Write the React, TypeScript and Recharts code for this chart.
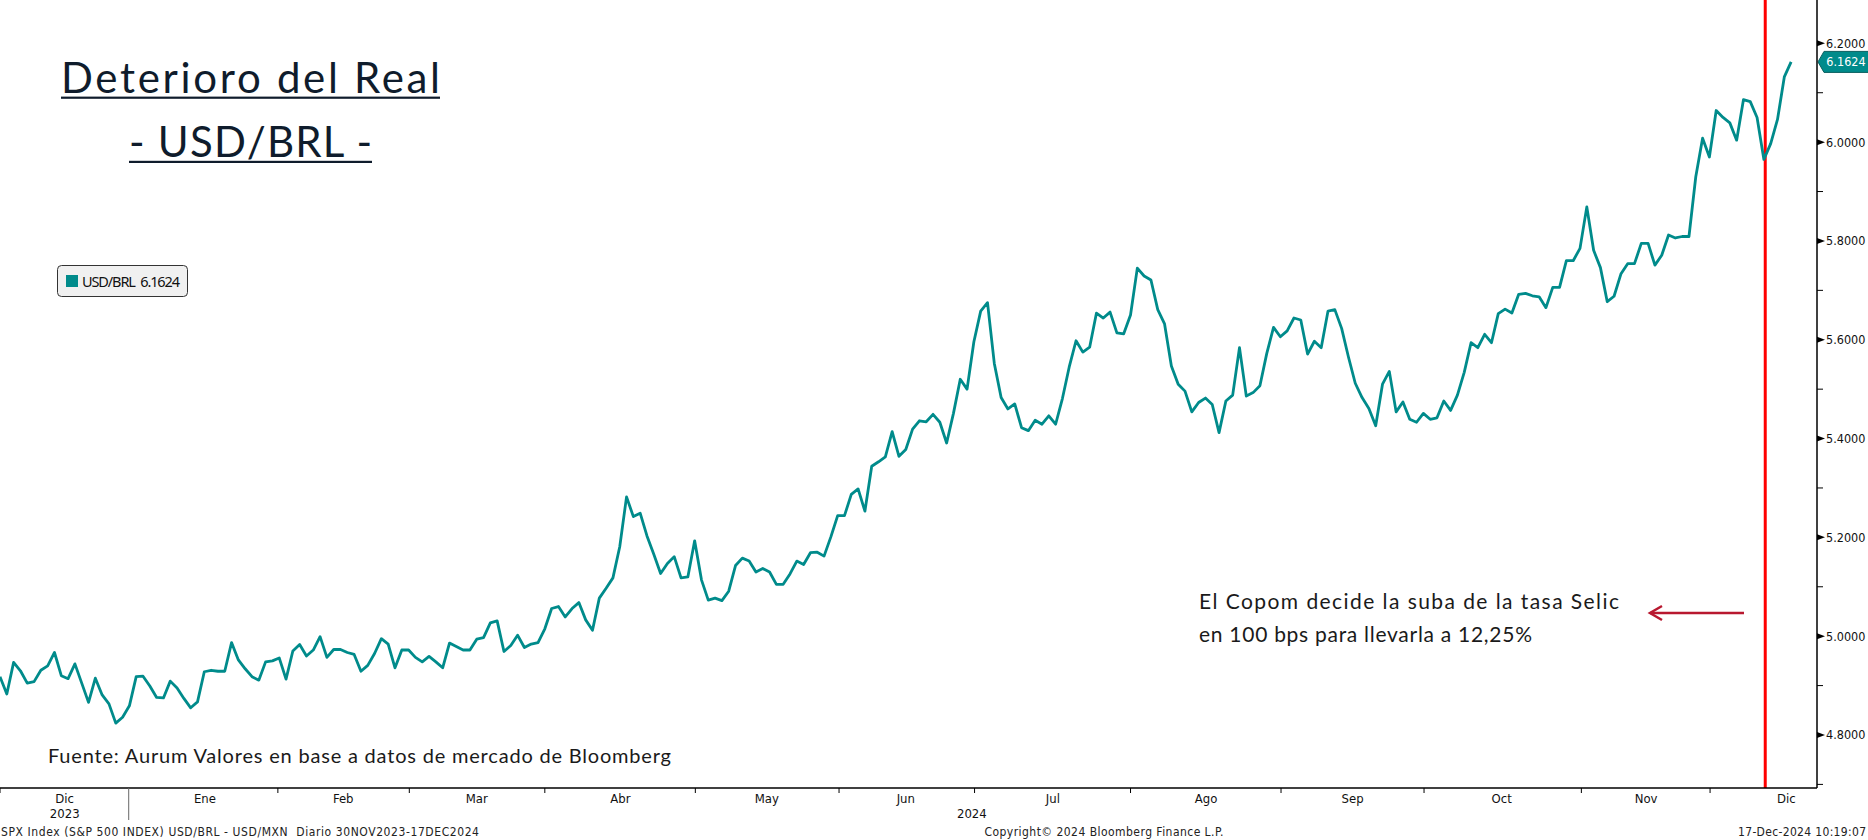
import React from 'react';
import { LineChart, Line, XAxis, YAxis, ReferenceLine } from 'recharts';

// USD/BRL daily close, 30-Nov-2023 .. 17-Dec-2024
const usdBrl = [
  4.918, 4.883, 4.947, 4.930, 4.905, 4.908, 4.931, 4.940, 4.967, 4.920,
  4.914, 4.944, 4.905, 4.866, 4.915, 4.881, 4.863, 4.824, 4.836, 4.859,
  4.918, 4.919, 4.899, 4.876, 4.875, 4.909, 4.895, 4.874, 4.855, 4.867,
  4.928, 4.931, 4.929, 4.929, 4.987, 4.952, 4.934, 4.918, 4.911, 4.948,
  4.950, 4.956, 4.913, 4.970, 4.983, 4.960, 4.972, 4.999, 4.957, 4.973,
  4.973, 4.967, 4.963, 4.929, 4.941, 4.965, 4.995, 4.984, 4.936, 4.972,
  4.972, 4.957, 4.948, 4.959, 4.948, 4.936, 4.986, 4.979, 4.972, 4.972,
  4.994, 4.997, 5.027, 5.031, 4.969, 4.981, 5.002, 4.977, 4.984, 4.987,
  5.015, 5.056, 5.060, 5.039, 5.056, 5.068, 5.033, 5.012, 5.077, 5.097,
  5.118, 5.181, 5.282, 5.242, 5.249, 5.203, 5.166, 5.127, 5.147, 5.161,
  5.118, 5.120, 5.193, 5.114, 5.073, 5.077, 5.072, 5.091, 5.143, 5.158,
  5.152, 5.130, 5.137, 5.130, 5.105, 5.105, 5.126, 5.152, 5.145, 5.169,
  5.170, 5.162, 5.201, 5.244, 5.244, 5.287, 5.298, 5.253, 5.344, 5.353,
  5.363, 5.414, 5.364, 5.378, 5.419, 5.436, 5.434, 5.449, 5.433, 5.391,
  5.451, 5.520, 5.500, 5.596, 5.658, 5.675, 5.552, 5.483, 5.460, 5.470,
  5.422, 5.416, 5.437, 5.429, 5.446, 5.429, 5.481, 5.545, 5.598, 5.575,
  5.585, 5.654, 5.644, 5.656, 5.614, 5.612, 5.650, 5.745, 5.729, 5.721,
  5.661, 5.632, 5.547, 5.510, 5.496, 5.454, 5.473, 5.482, 5.469, 5.412,
  5.476, 5.488, 5.584, 5.486, 5.493, 5.507, 5.572, 5.625, 5.606, 5.618,
  5.644, 5.640, 5.571, 5.597, 5.584, 5.658, 5.661, 5.623, 5.565, 5.512,
  5.483, 5.461, 5.426, 5.510, 5.536, 5.454, 5.474, 5.439, 5.433, 5.451,
  5.439, 5.442, 5.476, 5.457, 5.488, 5.534, 5.594, 5.584, 5.611, 5.594,
  5.653, 5.662, 5.654, 5.692, 5.694, 5.689, 5.687, 5.665, 5.706, 5.706,
  5.760, 5.760, 5.785, 5.869, 5.781, 5.746, 5.677, 5.688, 5.733, 5.754,
  5.754, 5.795, 5.795, 5.751, 5.771, 5.812, 5.806, 5.809, 5.809, 5.930,
  6.008, 5.970, 6.064, 6.050, 6.039, 6.004, 6.086, 6.082, 6.050, 5.965,
  5.997, 6.046, 6.132, 6.1624,
];
const seriesName = 'USD/BRL';

// x axis is in trading-day index units
const monthStarts = [0, 18.9, 40.8, 60.1, 80.0, 102.1, 123.2, 143.1, 166.0, 188.1, 209.1, 232.2, 251.1];
const yearBreak = 18.9;
const monthLabels = ['Dic', 'Ene', 'Feb', 'Mar', 'Abr', 'May', 'Jun', 'Jul', 'Ago', 'Sep', 'Oct', 'Nov', 'Dic'];
const monthLabelAt = [9.5, 30.1, 50.4, 70.0, 91.1, 112.6, 133.0, 154.6, 177.1, 198.6, 220.5, 241.7, 262.3];
const yearLabels = ['2023', '2024'];
const yearLabelAt = [9.5, 142.7];
const copomDay = 259.2; // 11-Dec-2024 Copom meeting
const xDomain = [0, 266.8];

const yTicks = [4.7, 4.8, 4.9, 5.0, 5.1, 5.2, 5.3, 5.4, 5.5, 5.6, 5.7, 5.8, 5.9, 6.0, 6.1, 6.2];
const yDomain = [4.6927, 6.2877];

const TEAL = '#008B8B';
const AXIS_FONT = "'DejaVu Sans Condensed', 'Liberation Sans Narrow', 'DejaVu Sans', sans-serif";
const TITLE_FONT = "Lato, 'Noto Sans', sans-serif";

const rows = usdBrl.map((v, i) => ({ i, v }));
const last = usdBrl[usdBrl.length - 1];
const labelTicks = Array.from(new Set([...monthLabelAt, ...yearLabelAt]));

const BoundaryTick = (props: any) => {
  const { x, y, payload } = props;
  const isYear = payload.value === yearBreak;
  return (
    <line
      x1={x}
      x2={x}
      y1={y}
      y2={y + (isYear ? 32 : 5)}
      stroke={isYear ? '#666' : '#000'}
      strokeWidth={1}
    />
  );
};

const LabelTick = (props: any) => {
  const { x, y, payload } = props;
  const mi = monthLabelAt.indexOf(payload.value);
  const yi = yearLabelAt.indexOf(payload.value);
  return (
    <g fontFamily={AXIS_FONT} fontSize={13} fill="#111">
      {mi >= 0 && (
        <text x={x} y={y + 14} textAnchor="middle">
          {monthLabels[mi]}
        </text>
      )}
      {yi >= 0 && (
        <text x={x} y={y + 29} textAnchor="middle">
          {yearLabels[yi]}
        </text>
      )}
    </g>
  );
};

const ValueTick = (props: any) => {
  const { x, y, payload } = props;
  const major = Math.round(payload.value * 10) % 2 === 0;
  if (!major) {
    return <line x1={x} x2={x + 6} y1={y} y2={y} stroke="#000" strokeWidth={1} />;
  }
  return (
    <g>
      <polygon points={`${x},${y - 3} ${x + 8},${y} ${x},${y + 3}`} fill="#000" />
      <text x={x + 9} y={y + 4.5} fontFamily={AXIS_FONT} fontSize={12.5} fill="#111">
        {payload.value.toFixed(4)}
      </text>
    </g>
  );
};

const LastBadge = (props: any) => {
  const vb = props.viewBox || {};
  const tip = vb.x + vb.width + 1;
  const cy = vb.y;
  return (
    <g>
      <path
        d={`M${tip},${cy} L${tip + 6},${cy - 10.5} L${tip + 51},${cy - 10.5} L${tip + 51},${cy + 10.5} L${tip + 6},${cy + 10.5} Z`}
        fill={TEAL}
        stroke="#0b5f5f"
        strokeWidth={1}
      />
      <text x={tip + 28} y={cy + 4.5} textAnchor="middle" fontFamily={AXIS_FONT} fontSize={12.5} fill="#fff">
        {last.toFixed(4)}
      </text>
    </g>
  );
};

export default function App() {
  return (
    <div style={{ position: 'absolute', left: 0, top: 0, width: 1868, height: 840, background: '#fff' }}>
      <style>{'body{margin:0}'}</style>
      <LineChart width={1868} height={840} data={rows} margin={{ top: 0, right: 0, bottom: 0, left: 0 }}>
        <XAxis
          xAxisId="b"
          dataKey="i"
          type="number"
          domain={xDomain}
          allowDataOverflow
          ticks={monthStarts}
          interval={0}
          height={1}
          axisLine={{ stroke: '#000', strokeWidth: 1.5 }}
          tickLine={false}
          tickSize={0}
          tickMargin={0}
          tick={<BoundaryTick />}
        />
        <XAxis
          xAxisId="m"
          dataKey="i"
          type="number"
          domain={xDomain}
          allowDataOverflow
          ticks={labelTicks}
          interval={0}
          height={51}
          axisLine={false}
          tickLine={false}
          tickSize={0}
          tickMargin={0}
          tick={<LabelTick />}
        />
        <YAxis
          orientation="right"
          type="number"
          domain={yDomain}
          allowDataOverflow
          ticks={yTicks}
          interval={0}
          width={51}
          axisLine={{ stroke: '#000', strokeWidth: 1.5 }}
          tickLine={false}
          tickSize={0}
          tickMargin={0}
          tick={<ValueTick />}
        />
        <ReferenceLine xAxisId="b" x={copomDay} stroke="#ff0000" strokeWidth={3} />
        <Line
          xAxisId="m"
          dataKey="v"
          stroke="none"
          dot={false}
          activeDot={false}
          legendType="none"
          isAnimationActive={false}
        />
        <Line
          xAxisId="b"
          type="linear"
          dataKey="v"
          stroke={TEAL}
          strokeWidth={2.8}
          strokeLinejoin="round"
          dot={false}
          activeDot={false}
          isAnimationActive={false}
        />
        <ReferenceLine
          xAxisId="b"
          y={last}
          stroke="none"
          label={(p: any) => <LastBadge {...p} />}
        />
      </LineChart>

      <svg
        width={1868}
        height={840}
        style={{ position: 'absolute', left: 0, top: 0, pointerEvents: 'none' }}
      >
        {/* title */}
        <g fontFamily={TITLE_FONT} fill="#0f1c2c">
          <text x={250.5} y={92.7} textAnchor="middle" fontSize={42} textLength={379}>
            Deterioro del Real
          </text>
          <rect x={61} y={96.6} width={379} height={2.2} />
          <text x={250.5} y={156.7} textAnchor="middle" fontSize={42} textLength={243}>
            - USD/BRL -
          </text>
          <rect x={129} y={160.8} width={243} height={2.2} />
        </g>

        {/* legend */}
        <rect x={57.5} y={265.5} width={130} height={31} rx={4} fill="#f0f0f0" stroke="#333" strokeWidth={1} />
        <rect x={66} y={275} width={12} height={12} fill={TEAL} />
        <text x={82} y={287} fontFamily="'Noto Sans', sans-serif" fontSize={14.5} fill="#111" textLength={98} style={{ whiteSpace: 'pre' }}>
          {`${seriesName}  ${last.toFixed(4)}`}
        </text>

        {/* annotation */}
        <g fontFamily={TITLE_FONT} fontSize={21} fill="#1a1a1a">
          <text x={1199} y={609} textLength={420}>El Copom decide la suba de la tasa Selic</text>
          <text x={1199} y={642} textLength={333}>en 100 bps para llevarla a 12,25%</text>
        </g>
        <g stroke="#b8182f" strokeWidth={2.5} fill="none">
          <line x1={1650} x2={1744} y1={613} y2={613} />
          <polyline points="1662,606 1650,613 1662,620" />
        </g>

        {/* source */}
        <text x={48} y={763} fontFamily={TITLE_FONT} fontSize={20} fill="#1a1a1a" textLength={623}>
          Fuente: Aurum Valores en base a datos de mercado de Bloomberg
        </text>

        {/* footer */}
        <g fontFamily={AXIS_FONT} fontSize={12} fill="#222">
          <text x={1} y={836} textLength={478} style={{ whiteSpace: 'pre' }}>
            {'SPX Index (S&P 500 INDEX) USD/BRL - USD/MXN  Diario 30NOV2023-17DEC2024'}
          </text>
          <text x={1104} y={836} textAnchor="middle" textLength={239}>
            Copyright© 2024 Bloomberg Finance L.P.
          </text>
          <text x={1866} y={836} textAnchor="end" textLength={128}>
            17-Dec-2024 10:19:07
          </text>
        </g>
      </svg>
    </div>
  );
}
